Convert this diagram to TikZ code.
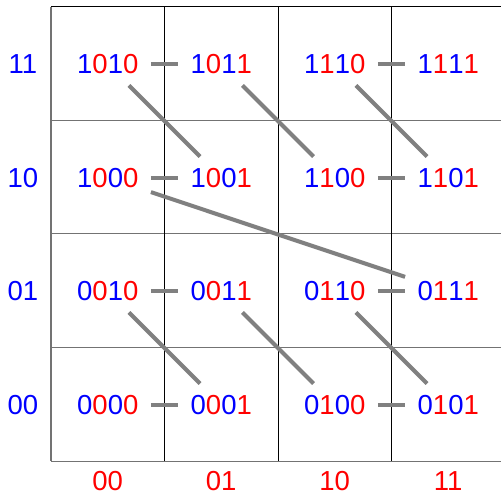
\documentclass[tikz,border=0pt]{standalone}
\usepackage{fontspec}
\setmainfont{Liberation Sans}
\newcommand\mcode[4]{\textcolor{blue}{#1}\textcolor{red}{#2}\textcolor{blue}{#3}\textcolor{red}{#4}}
\begin{document}
\begin{tikzpicture}[x=1pt,y=-1pt,
  cell/.style={minimum width=86pt,minimum height=42pt,inner sep=0pt,font=\fontsize{27.5}{30}\selectfont},
  lbl/.style={inner sep=0pt,font=\fontsize{27.5}{30}\selectfont},
  link/.style={draw=gray,line width=4pt},
  gridv/.style={draw=black,line width=1pt},
  gridh/.style={draw=black!55,line width=1pt}]
\useasboundingbox (0,0) rectangle (501,494);
\fill[white] (0,0) rectangle (501,494);
% grid
\draw[gridv] (51,7) -- (501,7);
\draw[gridh] (51,120.5) -- (501,120.5);
\draw[gridh] (51,234) -- (501,234);
\draw[gridh] (51,347.5) -- (501,347.5);
\draw[gridh] (51,461) -- (501,461);
\draw[draw=black!55,line width=2pt] (51,7) -- (51,461);
\draw[gridv] (164.5,7) -- (164.5,461);
\draw[gridv] (278,7) -- (278,461);
\draw[gridv] (391.5,7) -- (391.5,461);
% row labels
\node[lbl,text=blue] (r11) at (23,64.5) {11};
\node[lbl,text=blue] (r10) at (23,178) {10};
\node[lbl,text=blue] (r01) at (23,291.5) {01};
\node[lbl,text=blue] (r00) at (23,405) {00};
% column labels
\node[lbl,text=red] (c00) at (107.75,481.5) {00};
\node[lbl,text=red] (c01) at (221.25,481.5) {01};
\node[lbl,text=red] (c10) at (334.75,481.5) {10};
\node[lbl,text=red] (c11) at (448.25,481.5) {11};
% cells
\node[cell] (n1010) at (107.75,64.25) {\mcode1010};
\node[cell] (n1011) at (221.25,64.25) {\mcode1011};
\node[cell] (n1110) at (334.75,64.25) {\mcode1110};
\node[cell] (n1111) at (448.25,64.25) {\mcode1111};
\node[cell] (n1000) at (107.75,177.75) {\mcode1000};
\node[cell] (n1001) at (221.25,177.75) {\mcode1001};
\node[cell] (n1100) at (334.75,177.75) {\mcode1100};
\node[cell] (n1101) at (448.25,177.75) {\mcode1101};
\node[cell] (n0010) at (107.75,291.25) {\mcode0010};
\node[cell] (n0011) at (221.25,291.25) {\mcode0011};
\node[cell] (n0110) at (334.75,291.25) {\mcode0110};
\node[cell] (n0111) at (448.25,291.25) {\mcode0111};
\node[cell] (n0000) at (107.75,404.75) {\mcode0000};
\node[cell] (n0001) at (221.25,404.75) {\mcode0001};
\node[cell] (n0100) at (334.75,404.75) {\mcode0100};
\node[cell] (n0101) at (448.25,404.75) {\mcode0101};
% links
\draw[link] (n0000) -- (n0001);
\draw[link] (n0001) -- (n0010);
\draw[link] (n0010) -- (n0011);
\draw[link] (n0011) -- (n0100);
\draw[link] (n0100) -- (n0101);
\draw[link] (n0101) -- (n0110);
\draw[link] (n0110) -- (n0111);
\draw[link] (n0111) -- (n1000);
\draw[link] (n1000) -- (n1001);
\draw[link] (n1001) -- (n1010);
\draw[link] (n1010) -- (n1011);
\draw[link] (n1011) -- (n1100);
\draw[link] (n1100) -- (n1101);
\draw[link] (n1101) -- (n1110);
\draw[link] (n1110) -- (n1111);
\end{tikzpicture}
\end{document}
